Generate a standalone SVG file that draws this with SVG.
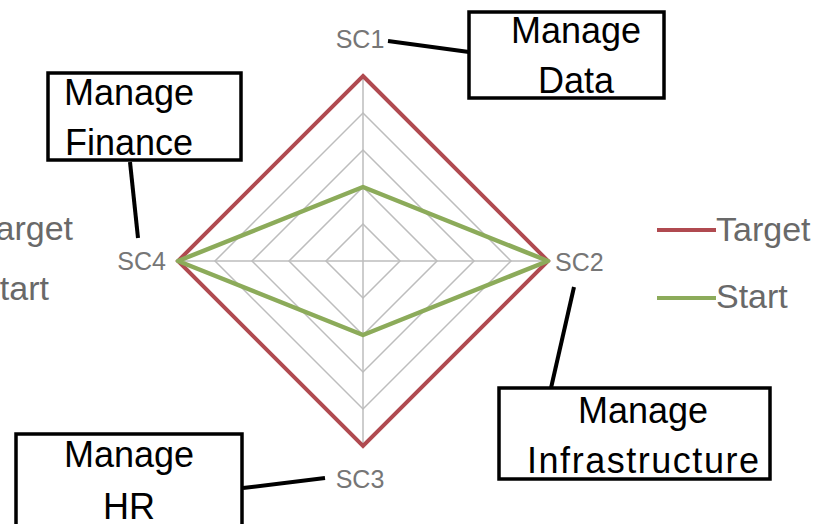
<svg xmlns="http://www.w3.org/2000/svg" width="828" height="524" viewBox="0 0 828 524">
<style>
.grid{fill:none;stroke:#bdbdbd;stroke-width:1.5}
.axis{font-family:"Liberation Sans",Arial,sans-serif;font-size:25px;fill:#767676}
.leg{font-family:"Liberation Sans",Arial,sans-serif;font-size:34px;fill:#696969}
.box{fill:#fff;stroke:#000;stroke-width:3.5}
.lbl{font-family:"Liberation Sans",Arial,sans-serif;font-size:36px;fill:#000;text-anchor:middle}
.conn{stroke:#000;stroke-width:4;fill:none}
</style>
<rect width="828" height="524" fill="#fff"/>
<g id="chart">
  <polygon class="grid" points="363,224 400,261 363,298 326,261"/>
  <polygon class="grid" points="363,187 437,261 363,335 289,261"/>
  <polygon class="grid" points="363,150 474,261 363,372 252,261"/>
  <polygon class="grid" points="363,113 511,261 363,409 215,261"/>
  <line class="grid" x1="363" y1="76" x2="363" y2="446"/>
  <line class="grid" x1="178" y1="261" x2="548" y2="261"/>
  <polygon id="target" points="363,76 548,261 363,446 178,261" fill="none" stroke="#b04a50" stroke-width="4" stroke-linejoin="miter"/>
  <polygon id="start" points="363,187 548,261 363,335 178,261" fill="none" stroke="#8cab5a" stroke-width="4.5" stroke-linejoin="round"/>
  <text class="axis" x="360" y="48" text-anchor="middle">SC1</text>
  <text class="axis" x="555" y="271">SC2</text>
  <text class="axis" x="360" y="488" text-anchor="middle">SC3</text>
  <text class="axis" x="166" y="270" text-anchor="end">SC4</text>
</g>
<g id="legend">
  <line x1="657" y1="230" x2="716" y2="230" stroke="#b04a50" stroke-width="4"/>
  <text class="leg" x="716" y="241">Target</text>
  <line x1="657" y1="298" x2="716" y2="298" stroke="#8cab5a" stroke-width="4"/>
  <text class="leg" x="716" y="308">Start</text>
  <text class="leg" x="73" y="240" text-anchor="end">Target</text>
  <text class="leg" x="49" y="300" text-anchor="end">Start</text>
</g>
<g id="connectors">
  <line class="conn" x1="388" y1="41" x2="469" y2="52"/>
  <line class="conn" x1="130" y1="162" x2="138" y2="238"/>
  <line class="conn" x1="574" y1="287" x2="551" y2="388"/>
  <line class="conn" x1="243" y1="488" x2="325" y2="478"/>
</g>
<g id="manage-data">
  <rect class="box" x="469" y="12" width="195" height="86"/>
  <text class="lbl" x="576" y="43">Manage</text>
  <text class="lbl" x="576" y="93">Data</text>
</g>
<g id="manage-finance">
  <rect class="box" x="48" y="73" width="193" height="87"/>
  <text class="lbl" x="129" y="105">Manage</text>
  <text class="lbl" x="129" y="155">Finance</text>
</g>
<g id="manage-infrastructure">
  <rect class="box" x="499" y="388" width="271" height="91"/>
  <text class="lbl" x="643" y="423">Manage</text>
  <text class="lbl" x="643" y="473" textLength="232">Infrastructure</text>
</g>
<g id="manage-hr">
  <rect class="box" x="16" y="434" width="226" height="100"/>
  <text class="lbl" x="129" y="467">Manage</text>
  <text class="lbl" x="129" y="519">HR</text>
</g>
</svg>
